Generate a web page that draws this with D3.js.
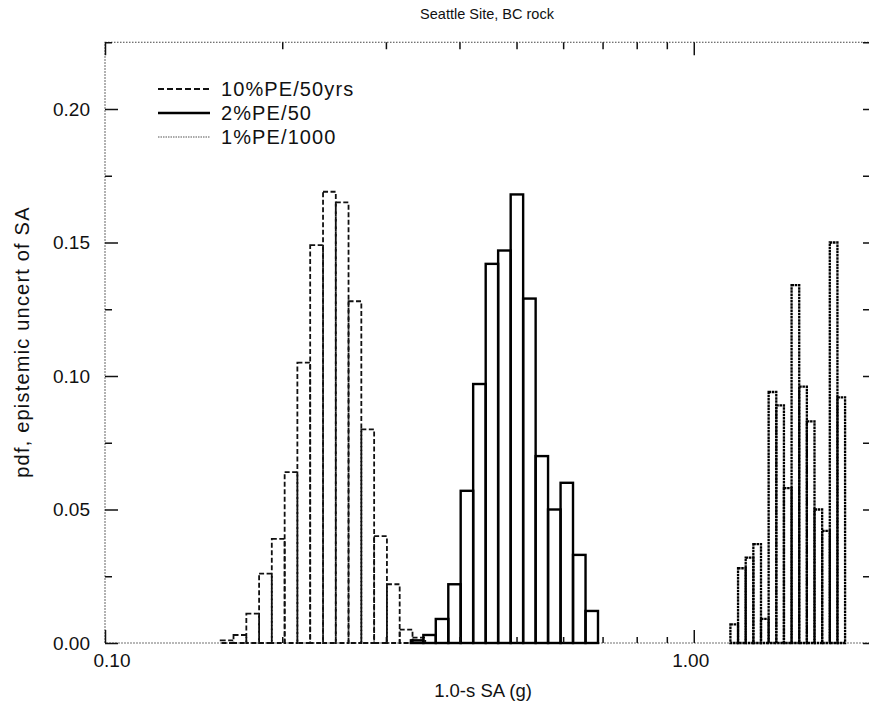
<!DOCTYPE html>
<html>
<head>
<meta charset="utf-8">
<script src="https://cdn.jsdelivr.net/npm/d3@7/dist/d3.min.js"></script>
<style>
  html, body { margin: 0; padding: 0; background: #fff; }
  text { font-family: "Liberation Sans", Arial, Helvetica, sans-serif; fill: #111; }
</style>
</head>
<body>
<svg id="chart" width="869" height="708"></svg>
<script>
// ---------------- data ----------------
const title = "Seattle Site, BC rock";
const xLabel = "1.0-s SA (g)";
const yLabel = "pdf, epistemic uncert of SA";
const seriesNames = ["10%PE/50yrs", "2%PE/50", "1%PE/1000"];

// bin edges (g) and pdf values for each histogram
const edges10 = [0.1572, 0.1653, 0.1738, 0.1827, 0.1920, 0.2019, 0.2122, 0.2231, 0.2346,
                 0.2466, 0.2592, 0.2725, 0.2865, 0.3012, 0.3166, 0.3329, 0.3499];
const pdf10   = [0.001, 0.003, 0.011, 0.026, 0.039, 0.064, 0.105, 0.149, 0.169,
                 0.165, 0.128, 0.080, 0.040, 0.022, 0.005, 0.002];

const edges2  = [0.3308, 0.3473, 0.3646, 0.3829, 0.4019, 0.4220, 0.4432, 0.4653, 0.4887,
                 0.5131, 0.5388, 0.5656, 0.5940, 0.6236, 0.6549, 0.6876];
const pdf2    = [0.001, 0.003, 0.009, 0.022, 0.057, 0.097, 0.142, 0.147, 0.168,
                 0.129, 0.070, 0.050, 0.060, 0.033, 0.012];

const edges1  = [1.1541, 1.1891, 1.2252, 1.2624, 1.3007, 1.3402, 1.3809, 1.4228, 1.4660,
                 1.5105, 1.5563, 1.6035, 1.6522, 1.7023, 1.7540, 1.8072];
const pdf1    = [0.007, 0.028, 0.032, 0.037, 0.009, 0.094, 0.089, 0.058, 0.134,
                 0.096, 0.083, 0.050, 0.042, 0.150, 0.092];

const xDomain = [0.1, 2.0];
const yDomain = [0, 0.225];
const xMajorTicks = [0.1, 1.0];
const xMajorLabels = ["0.10", "1.00"];
const xMinorTicks = [0.2, 0.3, 0.4, 0.5, 0.6, 0.7, 0.8, 0.9, 2.0];
const yMajorTicks = [0, 0.05, 0.10, 0.15, 0.20];
const yMajorLabels = ["0.00", "0.05", "0.10", "0.15", "0.20"];
const yMinorTicks = [0.025, 0.075, 0.125, 0.175, 0.225];

// ---------------- drawing ----------------
const svg = d3.select("#chart");
const pLeft = 105, pRight = 871, pTop = 42.25, pBottom = 643;

const x = d3.scaleLog().domain(xDomain).range([pLeft, pRight]);
const y = d3.scaleLinear().domain(yDomain).range([pBottom, pTop]);

const styles = [
  { stroke: "#111", width: 1.8, dash: "5,2.5" },
  { stroke: "#000", width: 2.4, dash: null },
  { stroke: "#000", width: 2.3, dash: "2.5,0.7" }
];

// frame (dotted)
svg.append("rect")
  .attr("x", pLeft).attr("y", pTop)
  .attr("width", pRight - pLeft).attr("height", pBottom - pTop)
  .attr("fill", "none").attr("stroke", "#444")
  .attr("stroke-width", 1.1).attr("stroke-dasharray", "1.5,1.5");

// histograms
function drawHist(edges, vals, st) {
  const g = svg.append("g");
  vals.forEach((v, i) => {
    g.append("rect")
      .attr("x", x(edges[i]))
      .attr("y", y(v))
      .attr("width", x(edges[i + 1]) - x(edges[i]))
      .attr("height", y(0) - y(v))
      .attr("fill", "none")
      .attr("stroke", st.stroke)
      .attr("stroke-width", st.width)
      .attr("stroke-dasharray", st.dash);
  });
}
drawHist(edges10, pdf10, styles[0]);
drawHist(edges2, pdf2, styles[1]);
drawHist(edges1, pdf1, styles[2]);

// axes ticks (inward) using d3 axes
const axG = svg.append("g");
const yAxisL = d3.axisLeft(y).tickValues(yMajorTicks).tickSize(-13).tickFormat("");
const yAxisLm = d3.axisLeft(y).tickValues(yMinorTicks).tickSize(-7).tickFormat("");
const yAxisR = d3.axisRight(y).tickValues(yMajorTicks.concat(yMinorTicks)).tickSize(-8).tickFormat("");
const xAxisB = d3.axisBottom(x).tickValues(xMajorTicks).tickSize(-13).tickFormat("");
const xAxisBm = d3.axisBottom(x).tickValues(xMinorTicks).tickSize(-6).tickFormat("");
const xAxisT = d3.axisTop(x).tickValues(xMajorTicks).tickSize(-13).tickFormat("");
const xAxisTm = d3.axisTop(x).tickValues(xMinorTicks).tickSize(-7).tickFormat("");

[[yAxisL, `translate(${pLeft},0)`], [yAxisLm, `translate(${pLeft},0)`],
 [yAxisR, `translate(${pRight},0)`],
 [xAxisB, `translate(0,${pBottom})`], [xAxisBm, `translate(0,${pBottom})`],
 [xAxisT, `translate(0,${pTop})`], [xAxisTm, `translate(0,${pTop})`]].forEach(([ax, tr]) => {
  const g = axG.append("g").attr("transform", tr).call(ax);
  g.select(".domain").remove();
  g.selectAll("line").attr("stroke", "#111").attr("stroke-width", 1.5);
});

// tick labels
svg.append("g").selectAll("text").data(yMajorTicks).join("text")
  .attr("x", 90).attr("y", d => y(d) + 6.5)
  .attr("text-anchor", "end").attr("font-size", 19)
  .text((d, i) => yMajorLabels[i]);

svg.append("g").selectAll("text").data(xMajorTicks).join("text")
  .attr("x", (d, i) => x(d) + (i === 0 ? 7 : -3)).attr("y", 667)
  .attr("text-anchor", "middle").attr("font-size", 19)
  .text((d, i) => xMajorLabels[i]);

// titles
svg.append("text").attr("x", 487).attr("y", 19)
  .attr("text-anchor", "middle").attr("font-size", 14.5).text(title);
svg.append("text").attr("x", 483).attr("y", 697)
  .attr("text-anchor", "middle").attr("font-size", 18.5).text(xLabel);
svg.append("text")
  .attr("transform", "translate(29,342) rotate(-90)")
  .attr("text-anchor", "middle").attr("font-size", 20)
  .attr("letter-spacing", 1.2).text(yLabel);

// legend
const legY = [89, 113, 137];
const leg = svg.append("g");
seriesNames.forEach((name, i) => {
  const st = styles[i];
  leg.append("line")
    .attr("x1", 158).attr("x2", 210)
    .attr("y1", legY[i]).attr("y2", legY[i])
    .attr("stroke", i === 2 ? "#555" : st.stroke)
    .attr("stroke-width", i === 2 ? 1.2 : st.width)
    .attr("stroke-dasharray", i === 0 ? "6,3" : (i === 2 ? "1.5,1" : null));
  leg.append("text")
    .attr("x", 221).attr("y", legY[i] + 7)
    .attr("font-size", 20).attr("letter-spacing", 1.1).text(name);
});
</script>
</body>
</html>
